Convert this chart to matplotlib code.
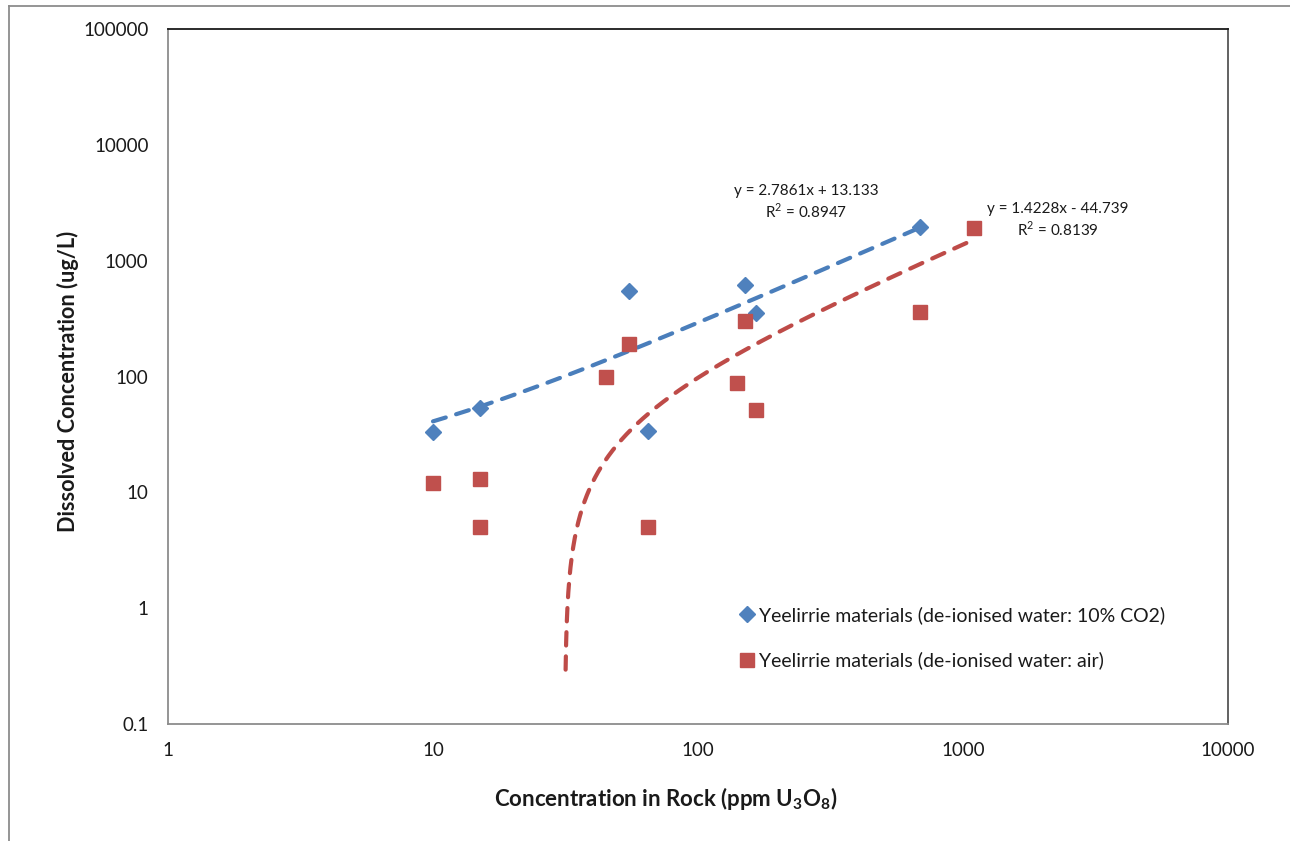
import numpy as np
import matplotlib
matplotlib.use("Agg")
import matplotlib.pyplot as plt
from matplotlib.lines import Line2D
from matplotlib.ticker import FixedLocator, FixedFormatter, NullLocator

plt.rcParams['font.family'] = ['Lato', 'DejaVu Sans']
plt.rcParams['mathtext.fontset'] = 'custom'
plt.rcParams['mathtext.rm'] = 'Lato'
plt.rcParams['mathtext.bf'] = 'Lato:bold'

# Uranium in rock (ppm U3O8) vs dissolved uranium (ug/L)
co2_rock = [10, 15, 55, 65, 150, 165, 690]
co2_dissolved = [33, 53, 550, 34, 620, 350, 1950]

air_rock = [10, 15, 15, 45, 55, 65, 140, 150, 165, 690, 1100]
air_dissolved = [12, 13, 5, 100, 190, 5, 88, 300, 51, 360, 1900]

# Linear trendlines (slope, intercept, R^2)
co2_fit = [2.7861, 13.133, 0.8947]
air_fit = [1.4228, -44.739, 0.8139]

x_ticks = [1, 10, 100, 1000, 10000]
x_tick_labels = ['1', '10', '100', '1000', '10000']
y_ticks = [0.1, 1, 10, 100, 1000, 10000, 100000]
y_tick_labels = ['0.1', '1', '10', '100', '1000', '10000', '100000']

label_co2 = 'Yeelirrie materials (de-ionised water: 10% CO2)'
label_air = 'Yeelirrie materials (de-ionised water: air)'

blue = '#4F81BD'
red = '#C0504D'
blue_line = '#4A7EBB'
red_line = '#BE4B48'

W, H = 1290, 841
fig = plt.figure(figsize=(W / 100, H / 100), dpi=100)
fig.patch.set_facecolor('white')

# chart-area frame (left and top edges)
fig.lines.append(Line2D([8.5 / W, 8.5 / W], [0, 1 - 5.5 / H], transform=fig.transFigure,
                        color='#8c8c8c', linewidth=1.3))
fig.lines.append(Line2D([8.5 / W, 1], [1 - 5.5 / H, 1 - 5.5 / H], transform=fig.transFigure,
                        color='#8c8c8c', linewidth=1.3))

ax = fig.add_axes([168 / W, 1 - 724 / H, (1228 - 168) / W, (724 - 29) / H])
ax.set_xscale('log')
ax.set_yscale('log')
ax.set_xlim(1, 10000)
ax.set_ylim(0.1, 100000)

ax.xaxis.set_major_locator(FixedLocator(x_ticks))
ax.xaxis.set_major_formatter(FixedFormatter(x_tick_labels))
ax.xaxis.set_minor_locator(NullLocator())
ax.yaxis.set_major_locator(FixedLocator(y_ticks))
ax.yaxis.set_major_formatter(FixedFormatter(y_tick_labels))
ax.yaxis.set_minor_locator(NullLocator())
ax.tick_params(axis='both', which='both', length=0, labelsize=13.5, colors='#1a1a1a')
ax.tick_params(axis='y', pad=14)
ax.tick_params(axis='x', pad=13)

ax.spines['left'].set_color('#8c8c8c')
ax.spines['bottom'].set_color('#8c8c8c')
ax.spines['right'].set_color('#555555')
ax.spines['top'].set_color('#1a1a1a')
for s in ax.spines.values():
    s.set_linewidth(1.3)

# trendlines
xs = np.logspace(np.log10(min(co2_rock)), np.log10(max(co2_rock)), 200)
ax.plot(xs, co2_fit[0] * xs + co2_fit[1], color=blue_line, lw=3.0,
        linestyle=(0, (3.2, 2.6)), dash_capstyle='round', zorder=2)

xs2 = np.logspace(np.log10(min(air_rock)), np.log10(max(air_rock)), 2000)
ys2 = air_fit[0] * xs2 + air_fit[1]
keep = ys2 > 0.26
ax.plot(xs2[keep], ys2[keep], color=red_line, lw=3.0,
        linestyle=(0, (3.2, 2.6)), dash_capstyle='round', zorder=2)

ax.plot(co2_rock, co2_dissolved, linestyle='none', marker='D', markersize=8.5,
        color=blue, markeredgecolor=blue, label=label_co2, zorder=3)
ax.plot(air_rock, air_dissolved, linestyle='none', marker='s', markersize=9.5,
        color=red, markeredgecolor=red, label=label_air, zorder=3)

# trendline equations
def eq_text(fit):
    sign = '+' if fit[1] >= 0 else '-'
    return f'y = {fit[0]:.4f}x {sign} {abs(fit[1]):.3f}\nR$^2$ = {fit[2]:.4f}'

ax.text(806 / W, 1 - 202 / H, eq_text(co2_fit), transform=fig.transFigure,
        ha='center', va='center', fontsize=11, linespacing=1.25, color='#1a1a1a')
ax.text(1058 / W, 1 - 220 / H, eq_text(air_fit), transform=fig.transFigure,
        ha='center', va='center', fontsize=11, linespacing=1.25, color='#1a1a1a')

leg = ax.legend(loc='upper left', bbox_to_anchor=(741 / W, 1 - 606 / H),
                bbox_transform=fig.transFigure, frameon=False, fontsize=14,
                handlelength=0.6, handletextpad=0.35, labelspacing=1.42,
                borderaxespad=0, borderpad=0)
for t in leg.get_texts():
    t.set_color('#1a1a1a')

ax.set_xlabel('Concentration in Rock (ppm U$_\\mathbf{3}$O$_\\mathbf{8}$)',
              fontsize=16, fontweight='bold', color='#1a1a1a')
ax.xaxis.set_label_coords((666 - 168) / (1228 - 168), -(785 - 724) / (724 - 29))
ax.set_ylabel('Dissolved Concentration (ug/L)', fontsize=15.6, fontweight='bold',
              color='#1a1a1a')
ax.yaxis.set_label_coords(-(168 - 79) / (1228 - 168), (724 - 381) / (724 - 29))

fig.savefig('out.png', dpi=100, facecolor='white')
